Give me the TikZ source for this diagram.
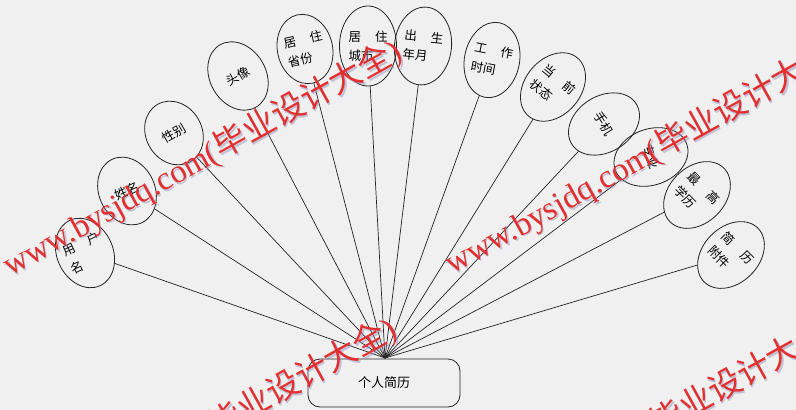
\documentclass[tikz,border=0pt]{standalone}
\usepackage{fontspec}
\setmainfont{Liberation Serif}
\newfontfamily\cjk{Noto Sans CJK SC}
\usetikzlibrary{shapes.geometric}
\definecolor{bg}{RGB}{240,240,240}
\definecolor{wm}{RGB}{226,48,48}
\definecolor{wmshadow}{RGB}{150,150,190}
\definecolor{ink}{RGB}{35,35,35}
\newcommand\wmtext{{\fontsize{33}{35}\selectfont www.bysjdq.com({\cjk 毕业设计大全})}}
\newcommand\gap{\hspace{14pt}}
\begin{document}
\begin{tikzpicture}[x=1pt,y=-1pt,
  attr/.style={ellipse, draw=ink, line width=0.8pt, inner sep=0pt,
    minimum width=56pt, minimum height=76pt, align=left,
    font=\cjk\fontsize{12.5}{19}\selectfont},
  entity/.style={draw=ink, line width=0.8pt, rounded corners=12pt,
    minimum width=152pt, minimum height=48pt,
    font=\cjk\fontsize{13}{15}\selectfont},
  conn/.style={draw=ink, line width=0.7pt},
  wmark/.style={text=wm, inner sep=0pt, anchor=base west, rotate=29},
  wmshade/.style={text=wmshadow, opacity=0.5, inner sep=0pt, anchor=base west, rotate=29}]
\fill[bg] (0,0) rectangle (796,410);
\useasboundingbox (0,0) rectangle (796,410);
\clip (0,0) rectangle (796,410);

\node[entity] (resume) at (384,383) {个人简历};
\coordinate (hub) at (385,358);

\node[attr, rotate=25, minimum height=72pt] (e1) at (85,253) {用\gap 户\\名};
\node[attr, rotate=25, minimum height=70pt] (e2) at (127,191) {姓名};
\node[attr, rotate=30, minimum height=66pt] (e3) at (174,133) {性别};
\node[attr, rotate=30, minimum height=72pt] (e4) at (238,76) {头像};
\node[attr, rotate=13, minimum width=54pt, minimum height=70pt] (e5) at (305,49) {居\gap 住\\省份};
\node[attr, rotate=0, minimum width=57pt, minimum height=80pt] (e6) at (368,46) {居\gap 住\\城市};
\node[attr, rotate=-6, minimum width=57pt, minimum height=78pt] (e7) at (423,46) {出\gap 生\\年月};
\node[attr, rotate=-11, minimum width=55pt] (e8) at (492,60) {工\gap 作\\时间};
\node[attr, rotate=-40] (e9) at (553,87) {当\gap 前\\状态};
\node[attr, rotate=-58] (e10) at (604,124) {手机};
\node[attr, rotate=-70] (e11) at (651,157) {专业};
\node[attr, rotate=-45] (e12) at (697,195) {最\gap 高\\学历};
\node[attr, rotate=-45] (e13) at (731,255) {简\gap 历\\附件};

\foreach \n in {e1,e2,e3,e4,e5,e6,e7,e8,e9,e10,e11,e12,e13}
  \draw[conn] (hub) -- (\n);

% watermarks
\node[wmshade] (s1) at (11.5,278.5) {\wmtext};
\node[wmshade] (s2) at (453.5,276.5) {\wmtext};
\node[wmshade] (s3) at (6.5,556.5) {\wmtext};
\node[wmshade] (s4) at (448.5,554.5) {\wmtext};
\node[wmark] (w1) at (10,277) {\wmtext};
\node[wmark] (w2) at (452,275) {\wmtext};
\node[wmark] (w3) at (5,555) {\wmtext};
\node[wmark] (w4) at (447,553) {\wmtext};
\end{tikzpicture}
\end{document}
